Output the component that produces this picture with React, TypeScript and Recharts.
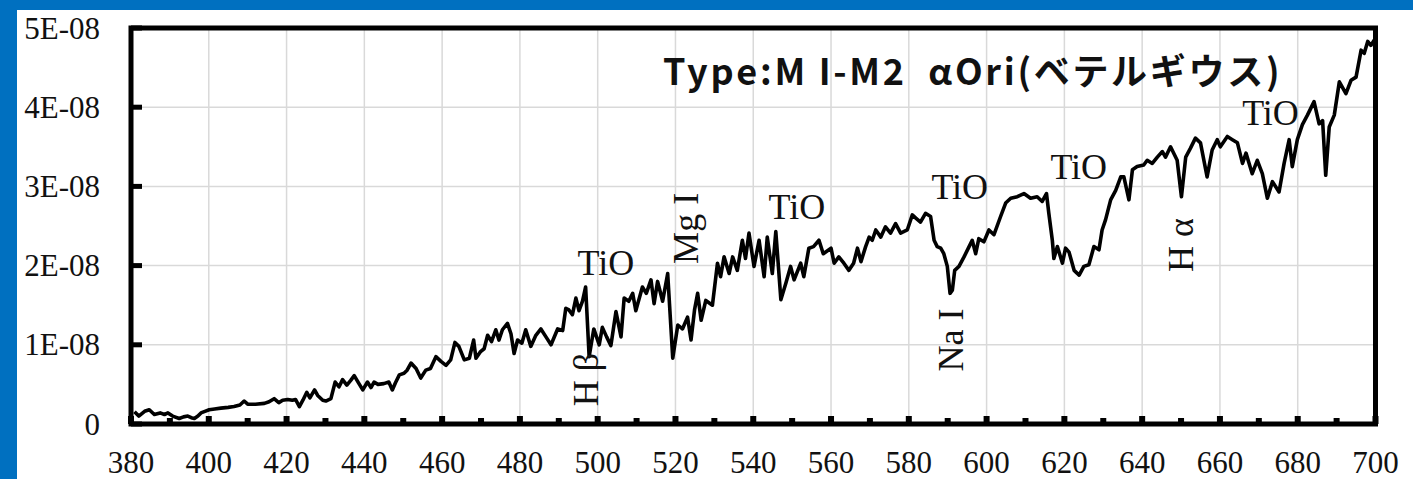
import { LineChart, Line, XAxis, YAxis, CartesianGrid, ReferenceArea, ReferenceDot } from 'recharts'

// 波長 (nm)
const wavelength = [
  380.9, 382, 383.5, 384.7, 386, 387.5, 388.6, 389.5, 390.7, 392.4, 393.5, 394.6, 395.5, 396.3, 397.2, 398, 399,
  400.1, 401.5, 403.1, 405, 406.5, 408, 409.1, 410, 412, 414.3, 415.5, 416.8, 418, 419, 420.3, 421.5, 422.3, 423.3,
  424.2, 425.2, 426, 427.2, 428, 429.3, 430.1, 431.4, 432.5, 433.5, 434.4, 435.5, 436.5, 437.4, 438.5, 439.6,
  440.8, 441.7, 442.5, 443.5, 445, 446.3, 447.2, 448, 449, 450.2, 451, 452, 453.3, 454.5, 455.8, 457, 458.4,
  459.7, 461, 462.2, 463.3, 464.3, 465.7, 467, 468.1, 468.7, 469.8, 470.8, 471.7, 472.7, 473.8, 474.6, 475.5,
  476.8, 477.7, 478.5, 479.4, 480.5, 481.5, 482.8, 484.1, 485.4, 486.7, 488, 489.7, 491, 491.8, 492.6, 493.5,
  494.4, 495.2, 496.1, 496.9, 497.8, 499, 500.4, 501.2, 502.3, 503.4, 504.7, 506, 506.8, 508, 509, 509.8, 511.5,
  512.5, 513.7, 514.5, 515.4, 516.7, 518, 519.3, 520.6, 521.8, 523.1, 524, 524.9, 525.7, 526.6, 527.8, 529.5,
  530.8, 531.6, 532.5, 533.8, 534.7, 535.9, 537.2, 538, 538.9, 540.2, 541.5, 542.8, 543.6, 544.9, 545.8, 547.1,
  548.4, 549.6, 550.5, 552.2, 553, 554.3, 555.5, 556.9, 558, 560, 560.8, 562, 563.3, 564.6, 565.8, 566.8, 567.7,
  568.9, 569.8, 570.6, 571.5, 572.8, 574, 575.3, 576.6, 577.9, 579.6, 580.9, 581.8, 583, 584.3, 585.6, 586.5,
  587.3, 588.2, 589, 589.9, 590.6, 591.2, 591.8, 592.9, 594.2, 595.5, 596.3, 597.2, 598, 599.3, 600.6, 601.9,
  603.6, 604.9, 606.2, 607.9, 609.6, 611.3, 613, 614.3, 615.4, 616, 616.9, 617.3, 618.2, 619.5, 620.3, 621.2,
  622.5, 623.8, 625, 626.3, 627.6, 628.9, 629.7, 630.6, 631.9, 633.2, 634.5, 635.3, 636.6, 637.5, 638.7, 640.4,
  641.3, 642.6, 643.9, 645.2, 646, 647.3, 649, 650.1, 651.2, 652.4, 653.7, 655, 656.7, 658, 659.3, 660.1, 661.9,
  663.2, 664.5, 665.8, 666.7, 668.3, 669.6, 670.9, 672.2, 673.5, 675.2, 676.5, 677.8, 678.6, 679.9, 681.2,
  682.5, 684.2, 685.5, 686.4, 687.2, 688.1, 689.4, 690.7, 692.4, 693.7, 695, 696.3, 697.1, 698, 698.8, 699.7,
]

// 強度 (単位 1E-08)
const flux = [
  0.155, 0.10, 0.16, 0.18, 0.12, 0.14, 0.12, 0.14, 0.10, 0.07, 0.09, 0.10, 0.08, 0.07, 0.10, 0.14, 0.16,
  0.18, 0.19, 0.20, 0.21, 0.22, 0.24, 0.29, 0.25, 0.25, 0.26, 0.28, 0.32, 0.27, 0.30, 0.31, 0.30, 0.31, 0.22,
  0.30, 0.40, 0.33, 0.43, 0.36, 0.30, 0.29, 0.32, 0.53, 0.47, 0.56, 0.49, 0.55, 0.61, 0.52, 0.43,
  0.53, 0.46, 0.53, 0.50, 0.51, 0.53, 0.43, 0.52, 0.62, 0.64, 0.68, 0.77, 0.70, 0.58, 0.68, 0.70, 0.85,
  0.79, 0.74, 0.81, 1.03, 0.98, 0.81, 0.83, 1.06, 0.83, 0.91, 0.95, 1.12, 1.04, 1.19, 1.06, 1.19,
  1.27, 1.14, 0.89, 1.06, 1.02, 1.19, 0.98, 1.12, 1.20, 1.10, 1.00, 1.20, 1.18, 1.46, 1.44, 1.38,
  1.59, 1.43, 1.55, 1.73, 0.85, 1.20, 1.00, 1.22, 1.10, 0.99, 1.42, 1.10, 1.59, 1.55, 1.65, 1.43, 1.73,
  1.65, 1.82, 1.52, 1.80, 1.55, 1.90, 0.83, 1.25, 1.20, 1.35, 1.06, 1.44, 1.65, 1.31, 1.56, 1.50,
  2.03, 1.86, 2.11, 1.90, 2.11, 1.94, 2.32, 2.09, 2.41, 1.99, 2.32, 1.86, 2.36, 1.90, 2.43, 1.57,
  1.78, 1.99, 1.82, 2.03, 1.86, 2.22, 2.24, 2.32, 2.15, 2.22, 2.03, 2.11, 2.03, 1.94, 2.03, 2.22, 2.05,
  2.24, 2.36, 2.32, 2.45, 2.36, 2.49, 2.41, 2.53, 2.41, 2.45, 2.64, 2.60, 2.55, 2.66, 2.62, 2.32,
  2.24, 2.22, 2.15, 1.99, 1.65, 1.69, 1.94, 1.99, 2.11, 2.24, 2.32, 2.15, 2.34, 2.30, 2.45, 2.39,
  2.62, 2.79, 2.85, 2.87, 2.91, 2.85, 2.87, 2.81, 2.91, 2.66, 2.32, 2.09, 2.24, 2.03, 2.22, 2.17,
  1.94, 1.88, 1.99, 2.01, 2.24, 2.20, 2.45, 2.58, 2.83, 2.95, 3.12, 3.12, 2.83, 3.21, 3.25, 3.27,
  3.33, 3.29, 3.37, 3.44, 3.37, 3.50, 3.33, 2.87, 3.37, 3.48, 3.61, 3.55, 3.12, 3.46, 3.59, 3.50, 3.63,
  3.59, 3.55, 3.29, 3.42, 3.16, 3.33, 3.16, 2.85, 3.06, 2.93, 3.29, 3.59, 3.25, 3.59, 3.78,
  3.90, 4.07, 3.79, 3.83, 3.14, 3.75, 3.90, 4.32, 4.17, 4.34, 4.38, 4.72, 4.68, 4.83, 4.78, 4.85,
]

const data = wavelength.map((w, i) => ({ w, f: flux[i] }))

const majorTicks = [380, 400, 420, 440, 460, 480, 500, 520, 540, 560, 580, 600, 620, 640, 660, 680, 700]
const xTicks = [
  380, 390, 400, 410, 420, 430, 440, 450, 460, 470, 480, 490, 500, 510, 520, 530, 540,
  550, 560, 570, 580, 590, 600, 610, 620, 630, 640, 650, 660, 670, 680, 690, 700,
]
const yTicks = [0, 1, 2, 3, 4, 5]
const yTickLabels = ['0', '1E-08', '2E-08', '3E-08', '4E-08', '5E-08']

// 吸収線などの注記
const noteText = ['H β', 'TiO', 'Mg I', 'TiO', 'Na I', 'TiO', 'TiO', 'H α', 'TiO']
const noteX = [497.0, 502.1, 522.7, 551.2, 590.8, 593.1, 623.7, 649.9, 673.0]
const noteY = [0.56, 2.03, 2.47, 2.74, 1.06, 2.99, 3.24, 2.26, 3.93]
const noteVertical = [true, false, true, false, true, false, false, true, false]

const title = 'Type:M I-M2  αOri(ベテルギウス)'

const serif = '"Liberation Serif", "Times New Roman", serif'

const XTick = (props: any) => {
  const { x, y, payload } = props
  const major = payload.value % 20 === 0
  return (
    <g>
      <rect x={x - 3} y={y - (major ? 8 : 6)} width={6} height={major ? 8 : 6} fill="#000" />
      {major && (
        <text x={x} y={y + 49} textAnchor="middle" fontSize={31} fontFamily={serif} fill="#111">
          {payload.value}
        </text>
      )}
    </g>
  )
}

const YTick = (props: any) => {
  const { x, y, payload } = props
  return (
    <g>
      <rect x={x} y={y - 2.5} width={11} height={5} fill="#000" />
      <text x={x - 31} y={y} textAnchor="end" dominantBaseline="central" fontSize={31} fontFamily={serif} fill="#111">
        {yTickLabels[yTicks.indexOf(payload.value)]}
      </text>
    </g>
  )
}

const Note = (text: string, vertical: boolean) => (props: any) => {
  const { cx, cy } = props
  return (
    <text
      x={cx}
      y={cy}
      textAnchor="middle"
      dominantBaseline="central"
      fontSize={36}
      fontFamily={serif}
      fill="#111"
      transform={vertical ? `rotate(-90 ${cx} ${cy})` : undefined}
    >
      {text}
    </text>
  )
}

export default function App() {
  return (
    <div style={{ position: 'fixed', left: 0, top: 0, width: 1413, height: 479, background: '#0070c0', overflow: 'hidden' }}>
      <div style={{ position: 'absolute', left: 17, top: 10, right: 0, bottom: 0, background: '#fff' }} />
      <div style={{ position: 'absolute', left: 0, top: 0 }}>
        <LineChart width={1413} height={479} data={data} margin={{ top: 28, right: 37.5, bottom: 0, left: 0 }}>
          <CartesianGrid stroke="#d9d9d9" strokeWidth={1.5} verticalValues={majorTicks} horizontalValues={yTicks} />
          <XAxis
            dataKey="w"
            type="number"
            domain={[380, 700]}
            ticks={xTicks}
            interval={0}
            axisLine={false}
            tickLine={false}
            tickSize={0}
            tickMargin={0}
            height={55}
            tick={<XTick />}
          />
          <YAxis
            type="number"
            domain={[0, 5]}
            ticks={yTicks}
            interval={0}
            axisLine={false}
            tickLine={false}
            tickSize={0}
            tickMargin={0}
            width={131}
            tick={<YTick />}
          />
          <ReferenceArea x1={380} x2={700} y1={0} y2={5} fill="none" fillOpacity={0} stroke="#000" strokeWidth={5} />
          <Line
            type="linear"
            dataKey="f"
            stroke="#000"
            strokeWidth={3.6}
            strokeLinejoin="round"
            dot={false}
            activeDot={false}
            isAnimationActive={false}
          />
          {noteText.map((t, i) => (
            <ReferenceDot key={i} x={noteX[i]} y={noteY[i]} r={0} shape={Note(t, noteVertical[i])} />
          ))}
        </LineChart>
      </div>
      <div
        style={{
          position: 'absolute',
          left: 663,
          top: 50,
          fontFamily: '"Noto Sans CJK JP", "Noto Sans", sans-serif',
          fontWeight: 700,
          fontSize: 36,
          lineHeight: '38px',
          letterSpacing: 2.7,
          whiteSpace: 'pre',
          color: '#111',
        }}
      >
        {title}
      </div>
    </div>
  )
}
